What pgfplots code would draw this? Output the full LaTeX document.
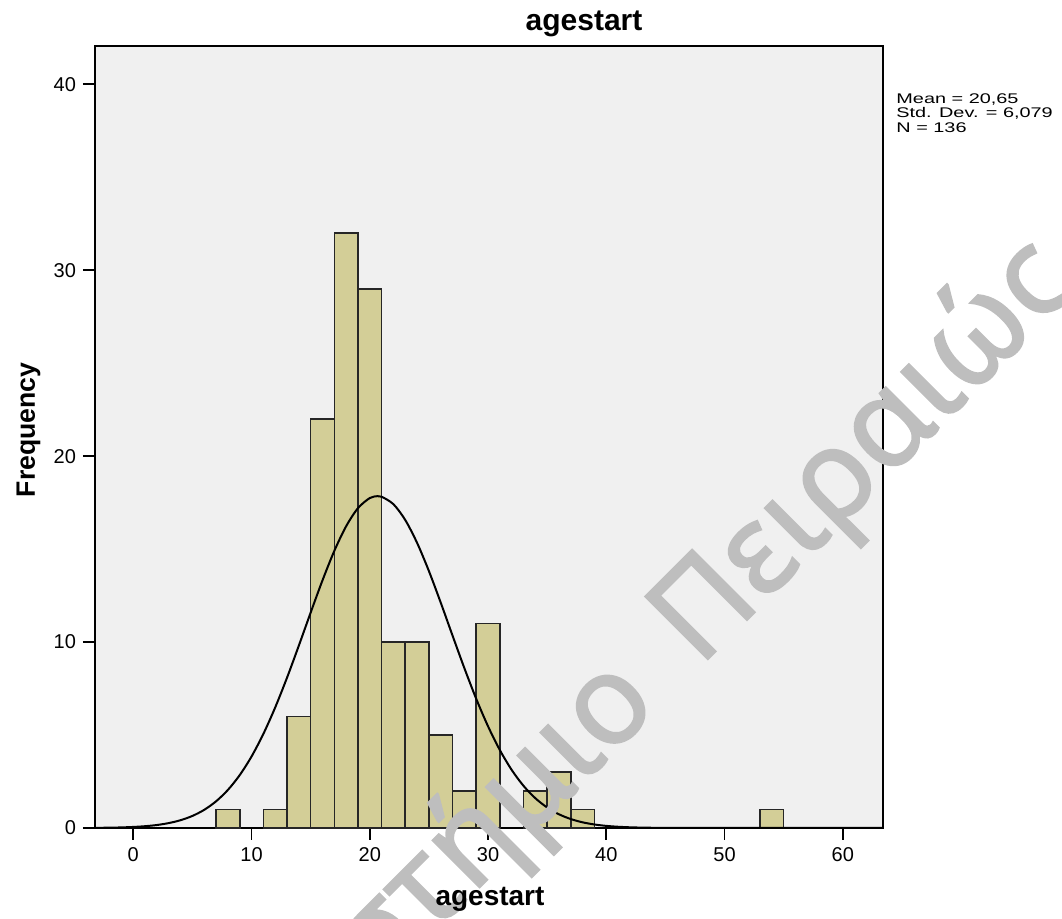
\documentclass[border=0pt]{standalone}
\usepackage{fontspec}
\setmainfont{Liberation Sans}
\newfontfamily\statfont[FakeStretch=1.42]{Liberation Sans}
\newfontfamily\wmfont[FakeBold=1.5]{Noto Sans}
\usepackage{pgfplots}
\pgfplotsset{compat=1.18}
\definecolor{barfill}{RGB}{211,206,151}
\definecolor{plotbg}{RGB}{240,240,240}
\definecolor{wmgray}{RGB}{190,190,190}

\begin{document}
\begin{tikzpicture}
% page = 1062 x 919 px at 0.5pt per px, axis box at origin
\path[use as bounding box] (-47.5pt,-45.5pt) rectangle (483.5pt,414pt);
\begin{axis}[
    at={(0,0)}, anchor=south west,
    scale only axis, width=394pt, height=391.15pt,
    xmin=-3.24, xmax=63.4, ymin=0, ymax=42.08,
    axis background/.style={fill=plotbg},
    axis line style={black, line width=1pt},
    xtick={0,10,...,60}, ytick={0,10,20,30,40},
    xtick pos=bottom, ytick pos=left,
    tick align=outside, major tick length=6pt,
    tick style={black, line width=0.9pt},
    tick label style={font=\fontsize{10}{12}\selectfont},
    /pgf/number format/assume math mode=true,
    clip=false,
]
% frequencies per 2-year bin (bin centres)
\addplot[ybar, bar width=2, fill=barfill, draw=black!85, line width=0.8pt] coordinates {
(8,1) (12,1) (14,6) (16,22) (18,32) (20,29) (22,10) (24,10) (26,5) (28,2)
(30,11) (34,2) (36,3) (38,1) (54,1)};
% normal curve, mean 20.65, sd 6.079, N=136, bin width 2
\addplot[black, line width=1pt, smooth] coordinates {
(-3.24,0.008) (-2,0.017) (-1,0.031) (0,0.056) (1,0.096) (2,0.161) (3,0.264) (4,0.420)
(5,0.649) (6,0.978) (7,1.435) (8,2.048) (9,2.845) (10,3.847) (11,5.063) (12,6.486)
(13,8.086) (14,9.813) (15,11.590) (16,13.322) (17,14.907) (18,16.232) (19,17.205)
(20,17.748) (20.65,17.850) (21,17.820) (22,17.415) (23,16.565) (24,15.335) (25,13.818)
(26,12.119) (27,10.344) (28,8.594) (29,6.949) (30,5.469) (31,4.189) (32,3.123)
(33,2.266) (34,1.601) (35,1.101) (36,0.737) (37,0.480) (38,0.304) (39,0.188)
(40,0.113) (41,0.066) (42,0.037) (43,0.021) (44,0.011) (45,0.006) (47,0.001)
(50,0) (55,0) (63.4,0)};
\end{axis}
\begin{scope}
\clip (-47.5pt,-45.5pt) rectangle (483.5pt,414pt);
\node[anchor=base west, rotate=45, inner sep=0pt, text=wmgray,
  font=\wmfont\fontsize{62}{70}\selectfont] at (302pt,80pt) {Πειραιώς};
\node[anchor=base east, rotate=45, inner sep=0pt, text=wmgray,
  font=\wmfont\fontsize{62}{70}\selectfont] at (283pt,61pt) {Πανεπιστήμιο};
\end{scope}
\node[anchor=base, font=\bfseries\fontsize{15}{18}\selectfont] at (244.5pt,398.5pt) {agestart};
\node[anchor=base, font=\bfseries\fontsize{14}{17}\selectfont] at (197.5pt,-39pt) {agestart};
\node[anchor=base, rotate=90, font=\bfseries\fontsize{13.3}{16}\selectfont] at (-30pt,199pt) {Frequency};
\node[anchor=north west, align=left, inner sep=0pt, font=\statfont\fontsize{7}{7.3}\selectfont]
  at (400.5pt,367.5pt) {Mean = 20,65\\Std. Dev. = 6,079\\N = 136};
\end{tikzpicture}
\end{document}
